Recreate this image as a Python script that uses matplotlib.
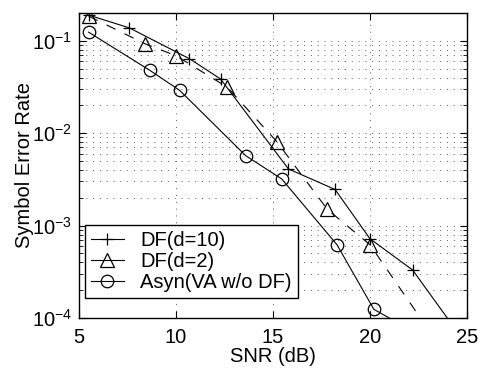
import matplotlib.pyplot as plt
from matplotlib.lines import Line2D

plt.rcParams['font.family'] = ['Liberation Sans', 'DejaVu Sans']
plt.rcParams['font.size'] = 14.5

# SNR (dB) and symbol error rate
snr_d10 = [5.5, 7.6, 10.7, 12.3, 15.8, 18.2, 20.0, 22.2, 24.6]
ser_d10 = [0.19, 0.138, 0.064, 0.0386, 0.0041, 0.00246, 0.00072, 0.00033, 0.000066]

snr_d2 = [5.5, 8.4, 10.0, 12.65, 15.2, 17.8, 20.0, 22.4]
ser_d2 = [0.185, 0.093, 0.069, 0.0314, 0.0081, 0.0015, 0.00062, 0.000115]

snr_asyn = [5.5, 8.65, 10.2, 13.6, 15.45, 18.3, 20.2, 22.0]
ser_asyn = [0.124, 0.048, 0.029, 0.0057, 0.0032, 0.00062, 0.000124, 0.000076]

labels = ['DF(d=10)', 'DF(d=2)', 'Asyn(VA w/o DF)']

fig = plt.figure(figsize=(4.78, 3.71), dpi=100)
ax = fig.add_axes([0.165, 0.143, 0.812, 0.822])

lw = 0.8
ax.semilogy(snr_d10, ser_d10, '-', color='k', lw=lw, marker='+', ms=9,
            mew=0.9)
ax.semilogy(snr_d2, ser_d2, color='k', lw=lw, ls=(0, (9, 9)), marker='^',
            ms=9.5, mfc='none', mew=0.9, markevery=slice(0, len(snr_d2) - 1))
ax.semilogy(snr_asyn, ser_asyn, '-', color='k', lw=lw, marker='o', ms=9,
            mfc='none', mew=0.9, markevery=slice(0, len(snr_asyn) - 1))

ax.set_xlim(5, 25)
ax.set_ylim(1e-4, 0.2)
ax.set_xticks([5, 10, 15, 20, 25])

grid_kw = dict(ls=(0, (1, 6)), color='0.35', lw=0.7)
ax.grid(True, which='major', axis='both', **grid_kw)
ax.grid(True, which='minor', axis='y', **grid_kw)
ax.tick_params(which='both', direction='in', top=True, right=True)
ax.tick_params(which='major', length=5, pad=5)
ax.tick_params(axis='x', which='major', pad=7)
ax.tick_params(which='minor', length=3)
for s in ax.spines.values():
    s.set_linewidth(1.0)

ax.set_xlabel('SNR (dB)', labelpad=0)
ax.set_ylabel('Symbol Error Rate', labelpad=-2)

handles = [
    Line2D([], [], color='k', lw=lw, marker='+', ms=9, mew=0.9),
    Line2D([], [], color='k', lw=lw, marker='^', ms=9.5, mfc='none', mew=0.9),
    Line2D([], [], color='k', lw=lw, marker='o', ms=9, mfc='none', mew=0.9),
]
leg = ax.legend(handles, labels, loc='lower left', bbox_to_anchor=(0.015, 0.066),
                fancybox=False, framealpha=1, edgecolor='k', handlelength=1.65,
                borderpad=0.3, labelspacing=0.1, handletextpad=0.8,
                borderaxespad=0)
leg.get_frame().set_linewidth(1.0)

fig.savefig('out.png', dpi=100)
